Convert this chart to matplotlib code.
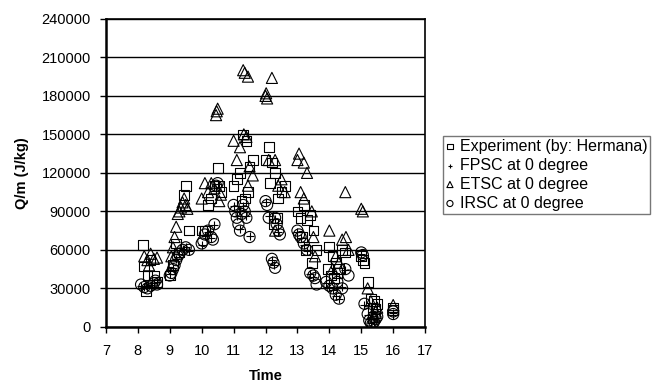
import matplotlib
matplotlib.use("Agg")
import matplotlib.pyplot as plt

plt.rcParams['font.family'] = ['Liberation Sans', 'DejaVu Sans']

# Experiment (by: Hermana)
exp_x = [8.15, 8.2, 8.3, 8.4, 8.5, 8.25, 8.6,
         9.5, 9.45, 9.6, 9.2, 9.1, 9.0, 9.3,
         10.5, 10.4, 10.3, 10.2, 10.1, 10.0, 10.6, 10.55,
         11.4, 11.3, 11.5, 11.6, 11.0, 11.1, 11.2, 11.25, 11.35, 11.45,
         12.1, 12.0, 12.2, 12.3, 12.4, 12.5, 12.15, 12.35, 12.25, 12.6,
         13.0, 13.1, 13.2, 13.3, 13.4, 13.5, 13.6, 13.15, 13.25, 13.45,
         14.0, 14.1, 14.2, 14.3, 14.4, 14.5, 13.95, 14.05, 14.15, 14.25,
         15.0, 15.05, 15.1, 15.2, 15.3, 15.4, 15.5, 15.35, 15.45,
         16.0, 16.0]
exp_y = [64000, 47000, 40000, 52000, 40000, 28000, 35000,
         110000, 103000, 75000, 65000, 48000, 40000, 58000,
         124000, 110000, 100000, 95000, 75000, 75000, 105000, 110000,
         145000, 150000, 125000, 130000, 110000, 115000, 120000, 98000, 100000, 105000,
         140000, 130000, 128000, 120000, 100000, 105000, 112000, 85000, 80000, 110000,
         90000, 85000, 95000, 83000, 87000, 75000, 60000, 70000, 60000, 50000,
         62000, 55000, 50000, 45000, 60000, 58000, 45000, 40000, 38000, 42000,
         55000, 52000, 50000, 35000, 22000, 20000, 18000, 15000, 14000,
         15000, 13000]

# FPSC at 0 degree
fpsc_x = [8.1, 8.2, 8.3, 8.4, 8.5, 8.6,
          9.0, 9.1, 9.2, 9.3, 9.4, 9.5, 9.6,
          10.0, 10.1, 10.2, 10.3, 10.4, 10.5,
          11.0, 11.1, 11.2, 11.3, 11.4, 11.5,
          12.0, 12.1, 12.2, 12.3, 12.4, 12.25,
          13.0, 13.1, 13.2, 13.3, 13.4, 13.5,
          13.9, 14.0, 14.1, 14.2, 14.3, 14.4, 14.5,
          15.0, 15.1, 15.2, 15.3, 15.4, 15.5,
          16.0, 16.0]
fpsc_y = [32000, 31000, 31000, 33000, 34000, 35000,
          41000, 46000, 53000, 57000, 61000, 62000, 59000,
          64000, 71000, 74000, 69000, 79000, 111000,
          94000, 86000, 76000, 94000, 86000, 71000,
          97000, 86000, 52000, 84000, 74000, 48000,
          74000, 69000, 64000, 59000, 41000, 39000,
          34000, 31000, 29000, 24000, 22000, 31000, 44000,
          57000, 17000, 9000, 3000, 4000, 7000,
          11000, 9000]

# ETSC at 0 degree
etsc_x = [8.2, 8.3, 8.4, 8.5, 8.6, 8.35,
          9.05, 9.1, 9.15, 9.2, 9.25, 9.3, 9.35, 9.4, 9.45, 9.5, 9.55,
          10.45, 10.5, 10.47, 10.1, 10.0, 10.2, 10.3, 10.4, 10.55, 10.6,
          11.3, 11.35, 11.45, 11.32, 11.4, 11.0, 11.1, 11.2, 11.5, 11.6, 11.45,
          12.0, 12.05, 12.02, 12.2, 12.3, 12.1, 12.5, 12.4, 12.6, 12.3,
          13.0, 13.05, 13.2, 13.3, 13.1, 13.2, 13.45, 13.5, 13.55,
          14.0, 14.5, 14.4, 14.52, 14.2, 14.3, 14.1, 14.6,
          15.0, 15.05, 15.2, 15.3, 15.35, 15.4, 15.45, 15.5,
          16.0]
etsc_y = [55000, 52000, 57000, 53000, 54000, 48000,
          55000, 62000, 70000, 78000, 88000, 90000, 93000, 97000, 100000, 95000, 92000,
          165000, 170000, 168000, 112000, 100000, 105000, 112000, 108000, 98000, 103000,
          200000, 198000, 195000, 150000, 148000, 145000, 130000, 140000, 125000, 118000, 110000,
          180000, 178000, 182000, 194000, 130000, 130000, 115000, 110000, 105000, 75000,
          130000, 135000, 128000, 120000, 105000, 100000, 90000, 70000, 55000,
          75000, 105000, 68000, 70000, 55000, 50000, 45000, 60000,
          92000, 90000, 30000, 20000, 10000, 8000, 12000, 15000,
          17000]

# IRSC at 0 degree
irsc_x = [8.1, 8.2, 8.3, 8.4, 8.5, 8.6, 8.55,
          9.0, 9.05, 9.1, 9.15, 9.2, 9.25, 9.3, 9.4, 9.5, 9.6,
          10.0, 10.05, 10.1, 10.2, 10.3, 10.4, 10.5, 10.45, 10.35,
          11.0, 11.05, 11.1, 11.15, 11.2, 11.3, 11.35, 11.4, 11.5, 11.25,
          12.0, 12.05, 12.1, 12.3, 12.35, 12.4, 12.45, 12.2, 12.25, 12.3,
          13.0, 13.05, 13.1, 13.2, 13.3, 13.4, 13.5, 13.55, 13.6,
          13.9, 14.0, 14.1, 14.2, 14.3, 14.4, 14.5, 14.6, 14.25,
          15.0, 15.05, 15.2, 15.25, 15.3, 15.35, 15.4, 15.45, 15.5, 15.1,
          16.0, 16.0]
irsc_y = [33000, 31000, 30000, 32000, 34000, 33000, 36000,
          40000, 42000, 45000, 48000, 52000, 55000, 57000, 60000, 62000, 60000,
          65000, 67000, 72000, 75000, 70000, 80000, 112000, 110000, 68000,
          95000, 90000, 85000, 80000, 75000, 95000, 90000, 85000, 70000, 88000,
          98000, 95000, 85000, 85000, 80000, 75000, 72000, 53000, 50000, 46000,
          75000, 72000, 70000, 65000, 60000, 42000, 40000, 38000, 33000,
          35000, 32000, 30000, 25000, 22000, 30000, 45000, 40000, 35000,
          58000, 56000, 10000, 5000, 3000, 2000, 4000, 6000, 8000, 18000,
          10000, 12000]

x_ticks = list(range(7, 18))
y_ticks = list(range(0, 240001, 30000))

fig = plt.figure(figsize=(6.54, 3.85), dpi=100)
ax = fig.add_axes([0.162, 0.151, 0.488, 0.80])

ms = 7
ax.scatter(exp_x, exp_y, marker='s', s=ms**2, facecolors='none', edgecolors='black',
           linewidths=0.8, label='Experiment (by: Hermana)', zorder=3)
ax.scatter(fpsc_x, fpsc_y, marker='+', s=(ms - 1)**2, color='black',
           linewidths=0.8, label='FPSC at 0 degree', zorder=3)
ax.scatter(etsc_x, etsc_y, marker='^', s=(ms + 1)**2, facecolors='none', edgecolors='black',
           linewidths=0.8, label='ETSC at 0 degree', zorder=3)
ax.scatter(irsc_x, irsc_y, marker='o', s=(ms + 1)**2, facecolors='none', edgecolors='black',
           linewidths=0.8, label='IRSC at 0 degree', zorder=3)

ax.set_xlim(7, 17)
ax.set_ylim(0, 240000)
ax.set_xticks(x_ticks)
ax.set_yticks(y_ticks)
ax.set_yticklabels([str(v) for v in y_ticks])
ax.tick_params(axis='both', labelsize=10.5, direction='out', length=4, width=1,
               color='black', pad=7)
ax.tick_params(axis='x', pad=8)
ax.yaxis.grid(True, color='black', linewidth=1)
ax.set_axisbelow(True)
for side in ['left', 'bottom']:
    ax.spines[side].set_linewidth(1.8)
for side in ['top', 'right']:
    ax.spines[side].set_linewidth(1.2)

ax.set_xlabel('Time', fontsize=10.5, fontweight='bold', labelpad=8)
ax.set_ylabel('Q/m (J/kg)', fontsize=10.5, fontweight='bold', labelpad=9)

leg = fig.legend(loc='upper left', bbox_to_anchor=(0.677, 0.648), fontsize=11.5,
                 frameon=True, fancybox=False, edgecolor='#555555', handlelength=0.5,
                 handletextpad=0.35, borderpad=0.2, labelspacing=0.25, markerscale=0.55,
                 borderaxespad=0)
leg.get_frame().set_linewidth(1.0)

fig.savefig('out.png', dpi=100)
